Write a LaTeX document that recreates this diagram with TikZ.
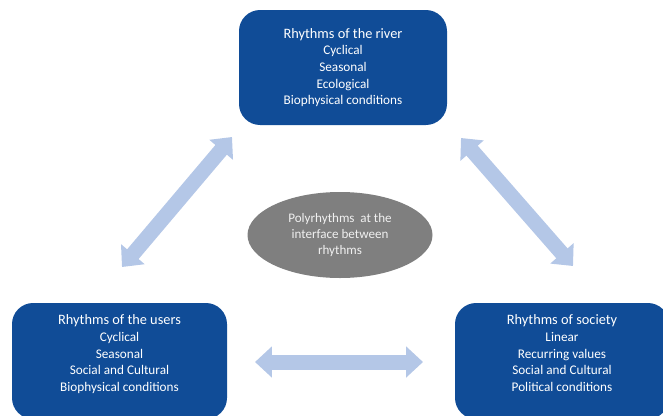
\documentclass[tikz,border=0pt]{standalone}
\usepackage{fontspec}
\setmainfont{Carlito}
\usetikzlibrary{arrows.meta,positioning,shapes.geometric}

\definecolor{boxblue}{RGB}{16,76,151}
\definecolor{arrowblue}{RGB}{180,199,231}
\definecolor{ovalgray}{RGB}{127,127,127}

\tikzset{
    rbox/.style={rounded corners=15, fill=boxblue, draw=none, text=white,
        align=center, inner sep=0pt},
    boxtext/.style={text=white, align=center, inner sep=0pt,
        font=\fontsize{9.4}{11.8}\selectfont},
    twoway/.style={draw=arrowblue, line width=15*0.025cm,
        {Triangle[length=0.42cm,width=0.75cm]}-{Triangle[length=0.42cm,width=0.75cm]}}
}
\newcommand{\boxtitle}[1]{{\fontsize{10.2}{12.4}\selectfont #1}}

\begin{document}
\begin{tikzpicture}[x=0.025cm,y=-0.025cm]
    \useasboundingbox (0,0) rectangle (663,415);

    % The three rhythms
    \node[rbox, boxtext, minimum width=208*0.025cm, minimum height=115*0.025cm]
        (river) at (343,67.5) {\boxtitle{Rhythms of the river}\\Cyclical\\Seasonal\\Ecological\\Biophysical conditions};
    \node[rbox, minimum width=215*0.025cm, minimum height=116*0.025cm] (users) at (119.5,361) {};
    \node[boxtext, anchor=north, below=12*0.025cm of users.north] (userstext)
        {\boxtitle{Rhythms of the users}\\Cyclical\\Seasonal\\Social and Cultural\\Biophysical conditions};
    \node[rbox, minimum width=214*0.025cm, minimum height=116*0.025cm] (society) at (562,361) {};
    \node[boxtext, anchor=north, below=12*0.025cm of society.north] (societytext)
        {\boxtitle{Rhythms of society}\\Linear\\Recurring values\\Social and Cultural\\Political conditions};

    % Middle
    \node[ellipse, fill=ovalgray, text=white!88!gray, minimum width=185*0.025cm,
        minimum height=86*0.025cm, align=center, inner sep=0pt,
        font=\fontsize{9.3}{11.2}\selectfont] (poly) at (340,235)
        {Polyrhythms\ \ at the\\interface between\\rhythms};

    % Arrows between the boxes
    \coordinate (ru) at (232,137);
    \coordinate (ur) at (122,267);
    \coordinate (rs) at (461,138);
    \coordinate (sr) at (573,266);
    \coordinate (us) at (255,362);
    \coordinate (su) at (423,362);
    \draw[twoway] (ur) -- (ru);
    \draw[twoway] (rs) -- (sr);
    \draw[twoway] (us) -- (su);
\end{tikzpicture}
\end{document}
